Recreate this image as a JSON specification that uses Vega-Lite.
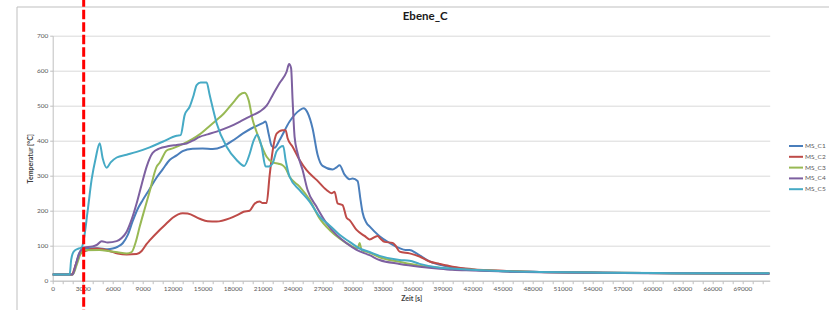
{
  "$schema": "https://vega.github.io/schema/vega-lite/v6.json",
  "width": 717,
  "height": 245,
  "autosize": {"type": "none"},
  "padding": {"left": 52.7, "top": 35.7, "right": 59.3, "bottom": 29.3},
  "background": "white",
  "config": {
    "view": {"stroke": null},
    "font": "Lato"
  },
  "title": {"text": "Ebene_C", "fontSize": 11.5, "fontWeight": "bold", "color": "#1a1a1a", "anchor": "middle", "dx": 14, "offset": -27, "font": "Lato"},
  "datasets": {
    "temps": [
      {"s":"MS_C1","t":0,"v":18},{"s":"MS_C1","t":2000,"v":18},{"s":"MS_C1","t":2300,"v":45},{"s":"MS_C1","t":2600,"v":75},{"s":"MS_C1","t":3000,"v":90},{"s":"MS_C1","t":3500,"v":93},{"s":"MS_C1","t":4500,"v":93},{"s":"MS_C1","t":5500,"v":90},{"s":"MS_C1","t":6000,"v":92},{"s":"MS_C1","t":6500,"v":97},{"s":"MS_C1","t":7000,"v":107},{"s":"MS_C1","t":7500,"v":130},{"s":"MS_C1","t":8000,"v":170},{"s":"MS_C1","t":8500,"v":205},{"s":"MS_C1","t":9000,"v":230},{"s":"MS_C1","t":9700,"v":262},{"s":"MS_C1","t":10400,"v":295},{"s":"MS_C1","t":11000,"v":318},{"s":"MS_C1","t":11700,"v":345},{"s":"MS_C1","t":12400,"v":358},{"s":"MS_C1","t":13000,"v":370},{"s":"MS_C1","t":14000,"v":377},{"s":"MS_C1","t":15000,"v":378},{"s":"MS_C1","t":16000,"v":376},{"s":"MS_C1","t":17000,"v":383},{"s":"MS_C1","t":18000,"v":400},{"s":"MS_C1","t":19000,"v":420},{"s":"MS_C1","t":20000,"v":437},{"s":"MS_C1","t":21000,"v":450},{"s":"MS_C1","t":21300,"v":455},{"s":"MS_C1","t":21600,"v":420},{"s":"MS_C1","t":21900,"v":385},{"s":"MS_C1","t":22200,"v":380},{"s":"MS_C1","t":22700,"v":402},{"s":"MS_C1","t":23700,"v":455},{"s":"MS_C1","t":24700,"v":487},{"s":"MS_C1","t":25100,"v":493},{"s":"MS_C1","t":25500,"v":480},{"s":"MS_C1","t":26000,"v":435},{"s":"MS_C1","t":26500,"v":360},{"s":"MS_C1","t":27000,"v":328},{"s":"MS_C1","t":28000,"v":318},{"s":"MS_C1","t":28400,"v":324},{"s":"MS_C1","t":28700,"v":330},{"s":"MS_C1","t":29200,"v":303},{"s":"MS_C1","t":29700,"v":290},{"s":"MS_C1","t":30000,"v":292},{"s":"MS_C1","t":30500,"v":285},{"s":"MS_C1","t":30800,"v":230},{"s":"MS_C1","t":31000,"v":195},{"s":"MS_C1","t":31400,"v":165},{"s":"MS_C1","t":31700,"v":155},{"s":"MS_C1","t":32700,"v":127},{"s":"MS_C1","t":33700,"v":108},{"s":"MS_C1","t":34700,"v":93},{"s":"MS_C1","t":35300,"v":88},{"s":"MS_C1","t":35700,"v":88},{"s":"MS_C1","t":36400,"v":78},{"s":"MS_C1","t":37700,"v":55},{"s":"MS_C1","t":39400,"v":41},{"s":"MS_C1","t":41400,"v":33},{"s":"MS_C1","t":45000,"v":27},{"s":"MS_C1","t":48700,"v":25},{"s":"MS_C1","t":55000,"v":23},{"s":"MS_C1","t":62000,"v":21.5},{"s":"MS_C1","t":71700,"v":20.5},

      {"s":"MS_C2","t":0,"v":18},{"s":"MS_C2","t":1900,"v":18},{"s":"MS_C2","t":2300,"v":45},{"s":"MS_C2","t":2700,"v":75},{"s":"MS_C2","t":3100,"v":83},{"s":"MS_C2","t":4400,"v":92},{"s":"MS_C2","t":5000,"v":90},{"s":"MS_C2","t":5700,"v":85},{"s":"MS_C2","t":6500,"v":78},{"s":"MS_C2","t":7400,"v":75},{"s":"MS_C2","t":8400,"v":76},{"s":"MS_C2","t":8900,"v":85},{"s":"MS_C2","t":9400,"v":105},{"s":"MS_C2","t":9700,"v":115},{"s":"MS_C2","t":10700,"v":145},{"s":"MS_C2","t":11400,"v":164},{"s":"MS_C2","t":12000,"v":180},{"s":"MS_C2","t":13000,"v":193},{"s":"MS_C2","t":13500,"v":192},{"s":"MS_C2","t":14700,"v":177},{"s":"MS_C2","t":15500,"v":170},{"s":"MS_C2","t":16400,"v":169},{"s":"MS_C2","t":17700,"v":178},{"s":"MS_C2","t":18500,"v":188},{"s":"MS_C2","t":19100,"v":197},{"s":"MS_C2","t":19700,"v":200},{"s":"MS_C2","t":20200,"v":220},{"s":"MS_C2","t":20700,"v":226},{"s":"MS_C2","t":21000,"v":222},{"s":"MS_C2","t":21400,"v":222},{"s":"MS_C2","t":21700,"v":300},{"s":"MS_C2","t":22000,"v":370},{"s":"MS_C2","t":22400,"v":420},{"s":"MS_C2","t":23000,"v":430},{"s":"MS_C2","t":23300,"v":430},{"s":"MS_C2","t":23500,"v":407},{"s":"MS_C2","t":24000,"v":383},{"s":"MS_C2","t":24700,"v":345},{"s":"MS_C2","t":25400,"v":316},{"s":"MS_C2","t":26400,"v":288},{"s":"MS_C2","t":27400,"v":259},{"s":"MS_C2","t":27900,"v":250},{"s":"MS_C2","t":28200,"v":254},{"s":"MS_C2","t":28500,"v":221},{"s":"MS_C2","t":29000,"v":216},{"s":"MS_C2","t":29400,"v":180},{"s":"MS_C2","t":29700,"v":173},{"s":"MS_C2","t":30400,"v":145},{"s":"MS_C2","t":31200,"v":128},{"s":"MS_C2","t":31700,"v":118},{"s":"MS_C2","t":32500,"v":128},{"s":"MS_C2","t":32800,"v":120},{"s":"MS_C2","t":33200,"v":111},{"s":"MS_C2","t":34000,"v":108},{"s":"MS_C2","t":34300,"v":100},{"s":"MS_C2","t":34700,"v":83},{"s":"MS_C2","t":35700,"v":78},{"s":"MS_C2","t":36700,"v":69},{"s":"MS_C2","t":37700,"v":55},{"s":"MS_C2","t":38700,"v":48},{"s":"MS_C2","t":40000,"v":40},{"s":"MS_C2","t":42000,"v":33},{"s":"MS_C2","t":45400,"v":28},{"s":"MS_C2","t":48700,"v":25},{"s":"MS_C2","t":55000,"v":23},{"s":"MS_C2","t":62000,"v":21.5},{"s":"MS_C2","t":71700,"v":20.5},

      {"s":"MS_C3","t":0,"v":18},{"s":"MS_C3","t":2000,"v":18},{"s":"MS_C3","t":2400,"v":45},{"s":"MS_C3","t":2800,"v":78},{"s":"MS_C3","t":3100,"v":87},{"s":"MS_C3","t":4700,"v":88},{"s":"MS_C3","t":5700,"v":84},{"s":"MS_C3","t":6500,"v":81},{"s":"MS_C3","t":7400,"v":78},{"s":"MS_C3","t":7900,"v":82},{"s":"MS_C3","t":8300,"v":110},{"s":"MS_C3","t":8700,"v":154},{"s":"MS_C3","t":9200,"v":205},{"s":"MS_C3","t":9700,"v":255},{"s":"MS_C3","t":10400,"v":326},{"s":"MS_C3","t":10700,"v":337},{"s":"MS_C3","t":11400,"v":372},{"s":"MS_C3","t":12000,"v":378},{"s":"MS_C3","t":13000,"v":390},{"s":"MS_C3","t":14000,"v":405},{"s":"MS_C3","t":14700,"v":418},{"s":"MS_C3","t":15500,"v":437},{"s":"MS_C3","t":16400,"v":459},{"s":"MS_C3","t":17100,"v":477},{"s":"MS_C3","t":17700,"v":497},{"s":"MS_C3","t":18200,"v":514},{"s":"MS_C3","t":18700,"v":531},{"s":"MS_C3","t":19200,"v":537},{"s":"MS_C3","t":19600,"v":516},{"s":"MS_C3","t":20000,"v":460},{"s":"MS_C3","t":20400,"v":425},{"s":"MS_C3","t":20700,"v":400},{"s":"MS_C3","t":21400,"v":354},{"s":"MS_C3","t":22000,"v":338},{"s":"MS_C3","t":22600,"v":334},{"s":"MS_C3","t":23000,"v":330},{"s":"MS_C3","t":23300,"v":321},{"s":"MS_C3","t":23700,"v":297},{"s":"MS_C3","t":24700,"v":269},{"s":"MS_C3","t":25700,"v":231},{"s":"MS_C3","t":26700,"v":178},{"s":"MS_C3","t":27700,"v":145},{"s":"MS_C3","t":28700,"v":121},{"s":"MS_C3","t":29700,"v":102},{"s":"MS_C3","t":30500,"v":92},{"s":"MS_C3","t":30700,"v":108},{"s":"MS_C3","t":30900,"v":88},{"s":"MS_C3","t":31700,"v":80},{"s":"MS_C3","t":32700,"v":67},{"s":"MS_C3","t":34700,"v":54},{"s":"MS_C3","t":36700,"v":43},{"s":"MS_C3","t":38700,"v":37},{"s":"MS_C3","t":40000,"v":33},{"s":"MS_C3","t":42000,"v":31},{"s":"MS_C3","t":45400,"v":27},{"s":"MS_C3","t":48700,"v":24.5},{"s":"MS_C3","t":55000,"v":23},{"s":"MS_C3","t":62000,"v":21.5},{"s":"MS_C3","t":71700,"v":20.5},

      {"s":"MS_C4","t":0,"v":18},{"s":"MS_C4","t":2000,"v":18},{"s":"MS_C4","t":2300,"v":45},{"s":"MS_C4","t":2700,"v":80},{"s":"MS_C4","t":3100,"v":95},{"s":"MS_C4","t":4000,"v":98},{"s":"MS_C4","t":4400,"v":102},{"s":"MS_C4","t":4900,"v":113},{"s":"MS_C4","t":5500,"v":109},{"s":"MS_C4","t":6400,"v":113},{"s":"MS_C4","t":6900,"v":122},{"s":"MS_C4","t":7400,"v":140},{"s":"MS_C4","t":7900,"v":175},{"s":"MS_C4","t":8400,"v":221},{"s":"MS_C4","t":8900,"v":275},{"s":"MS_C4","t":9400,"v":326},{"s":"MS_C4","t":10000,"v":365},{"s":"MS_C4","t":10700,"v":378},{"s":"MS_C4","t":11500,"v":384},{"s":"MS_C4","t":12400,"v":388},{"s":"MS_C4","t":13400,"v":392},{"s":"MS_C4","t":14000,"v":400},{"s":"MS_C4","t":14700,"v":411},{"s":"MS_C4","t":15500,"v":418},{"s":"MS_C4","t":16400,"v":426},{"s":"MS_C4","t":17700,"v":440},{"s":"MS_C4","t":18700,"v":454},{"s":"MS_C4","t":19700,"v":469},{"s":"MS_C4","t":20700,"v":483},{"s":"MS_C4","t":21400,"v":500},{"s":"MS_C4","t":22000,"v":530},{"s":"MS_C4","t":22700,"v":565},{"s":"MS_C4","t":23400,"v":597},{"s":"MS_C4","t":23650,"v":619},{"s":"MS_C4","t":23850,"v":607},{"s":"MS_C4","t":24000,"v":516},{"s":"MS_C4","t":24200,"v":411},{"s":"MS_C4","t":24500,"v":364},{"s":"MS_C4","t":25000,"v":316},{"s":"MS_C4","t":25500,"v":259},{"s":"MS_C4","t":26400,"v":211},{"s":"MS_C4","t":27400,"v":164},{"s":"MS_C4","t":28400,"v":131},{"s":"MS_C4","t":29400,"v":107},{"s":"MS_C4","t":30400,"v":88},{"s":"MS_C4","t":31700,"v":73},{"s":"MS_C4","t":32700,"v":59},{"s":"MS_C4","t":34700,"v":48},{"s":"MS_C4","t":36700,"v":40},{"s":"MS_C4","t":38700,"v":34},{"s":"MS_C4","t":40000,"v":31},{"s":"MS_C4","t":42000,"v":29},{"s":"MS_C4","t":45400,"v":26},{"s":"MS_C4","t":48700,"v":24},{"s":"MS_C4","t":55000,"v":22.5},{"s":"MS_C4","t":62000,"v":21},{"s":"MS_C4","t":71700,"v":20},

      {"s":"MS_C5","t":0,"v":18},{"s":"MS_C5","t":1700,"v":18},{"s":"MS_C5","t":1850,"v":60},{"s":"MS_C5","t":2100,"v":83},{"s":"MS_C5","t":2600,"v":92},{"s":"MS_C5","t":2900,"v":95},{"s":"MS_C5","t":3100,"v":116},{"s":"MS_C5","t":3500,"v":200},{"s":"MS_C5","t":3900,"v":290},{"s":"MS_C5","t":4300,"v":350},{"s":"MS_C5","t":4700,"v":393},{"s":"MS_C5","t":5000,"v":350},{"s":"MS_C5","t":5400,"v":323},{"s":"MS_C5","t":5800,"v":338},{"s":"MS_C5","t":6400,"v":352},{"s":"MS_C5","t":7400,"v":360},{"s":"MS_C5","t":8400,"v":368},{"s":"MS_C5","t":9700,"v":381},{"s":"MS_C5","t":11000,"v":397},{"s":"MS_C5","t":12400,"v":414},{"s":"MS_C5","t":12800,"v":416},{"s":"MS_C5","t":13200,"v":473},{"s":"MS_C5","t":13700,"v":497},{"s":"MS_C5","t":14100,"v":530},{"s":"MS_C5","t":14400,"v":559},{"s":"MS_C5","t":14800,"v":566},{"s":"MS_C5","t":15400,"v":566},{"s":"MS_C5","t":15700,"v":531},{"s":"MS_C5","t":16000,"v":495},{"s":"MS_C5","t":16400,"v":450},{"s":"MS_C5","t":17400,"v":383},{"s":"MS_C5","t":18400,"v":345},{"s":"MS_C5","t":19150,"v":328},{"s":"MS_C5","t":19700,"v":362},{"s":"MS_C5","t":20100,"v":400},{"s":"MS_C5","t":20450,"v":417},{"s":"MS_C5","t":20900,"v":383},{"s":"MS_C5","t":21300,"v":326},{"s":"MS_C5","t":21600,"v":326},{"s":"MS_C5","t":22000,"v":335},{"s":"MS_C5","t":22400,"v":370},{"s":"MS_C5","t":23060,"v":385},{"s":"MS_C5","t":23300,"v":345},{"s":"MS_C5","t":23700,"v":297},{"s":"MS_C5","t":24700,"v":259},{"s":"MS_C5","t":25700,"v":226},{"s":"MS_C5","t":26700,"v":183},{"s":"MS_C5","t":27700,"v":158},{"s":"MS_C5","t":28700,"v":131},{"s":"MS_C5","t":29700,"v":111},{"s":"MS_C5","t":30700,"v":92},{"s":"MS_C5","t":31700,"v":82},{"s":"MS_C5","t":32700,"v":71},{"s":"MS_C5","t":34700,"v":59},{"s":"MS_C5","t":35700,"v":57},{"s":"MS_C5","t":36700,"v":48},{"s":"MS_C5","t":38700,"v":37},{"s":"MS_C5","t":41000,"v":33},{"s":"MS_C5","t":45400,"v":27},{"s":"MS_C5","t":48700,"v":25},{"s":"MS_C5","t":55000,"v":23},{"s":"MS_C5","t":62000,"v":21.5},{"s":"MS_C5","t":71700,"v":21}
    ]
  },
  "layer": [
    {
      "data": {"name": "temps"},
      "mark": {"type": "line", "strokeWidth": 2, "interpolate": "monotone"},
      "encoding": {
        "x": {
          "field": "t", "type": "quantitative",
          "scale": {"domain": [0, 71730], "nice": false, "zero": false},
          "axis": {
            "title": "Zeit [s]", "titleFontSize": 7, "titleFontWeight": "bold", "titleColor": "#404040", "titlePadding": 2,
            "tickCount": 200,
            "values": [0,1000,2000,3000,4000,5000,6000,7000,8000,9000,10000,11000,12000,13000,14000,15000,16000,17000,18000,19000,20000,21000,22000,23000,24000,25000,26000,27000,28000,29000,30000,31000,32000,33000,34000,35000,36000,37000,38000,39000,40000,41000,42000,43000,44000,45000,46000,47000,48000,49000,50000,51000,52000,53000,54000,55000,56000,57000,58000,59000,60000,61000,62000,63000,64000,65000,66000,67000,68000,69000,70000,71000],
            "labelExpr": "datum.value % 3000 === 0 ? format(datum.value, 'd') : ''",
            "labelFontSize": 6.5, "labelColor": "#595959", "labelPadding": 2, "labelOverlap": false, "labelFlush": false,
            "tickSize": 3, "tickColor": "#bfbfbf", "domainColor": "#bfbfbf", "grid": false
          }
        },
        "y": {
          "field": "v", "type": "quantitative",
          "scale": {"domain": [0, 700], "nice": false},
          "axis": {
            "title": "Temperatur [°C]", "titleFontSize": 7, "titleFontWeight": "bold", "titleColor": "#404040", "titlePadding": 3,
            "tickCount": 50,
            "values": [0,100,200,300,400,500,600,700],
            "labelFontSize": 6.5, "labelColor": "#595959", "labelPadding": 2, "labelOverlap": false,
            "tickSize": 3, "tickColor": "#bfbfbf", "domainColor": "#bfbfbf",
            "grid": true, "gridColor": "#d9d9d9", "gridWidth": 1
          }
        },
        "color": {
          "field": "s", "type": "nominal",
          "scale": {"domain": ["MS_C1","MS_C2","MS_C3","MS_C4","MS_C5"], "range": ["#4a7ebb","#be4b48","#98b954","#7d60a0","#46aac5"]},
          "legend": {
            "title": null, "orient": "none", "legendX": 737.3, "legendY": 104.3,
            "symbolType": "M-1.4,0H1.4", "symbolSize": 100, "symbolStrokeWidth": 2,
            "labelFontSize": 6.5, "labelColor": "#595959", "labelOffset": 3, "rowPadding": 0.8
          }
        }
      }
    },
    {
      "data": {"values": [{}]},
      "mark": {"type": "rect", "fill": "white", "fillOpacity": 0, "stroke": "#bfbfbf", "strokeWidth": 1, "clip": false},
      "encoding": {
        "x": {"datum": -3570, "type": "quantitative"},
        "x2": {"datum": 80000},
        "y": {"datum": 782, "type": "quantitative"},
        "y2": {"datum": -120}
      }
    },
    {
      "data": {"values": [{}]},
      "mark": {"type": "rule", "color": "#ff0000", "strokeWidth": 3, "strokeDash": [9.5, 3], "clip": false},
      "encoding": {
        "x": {"datum": 3100, "type": "quantitative"},
        "y": {"datum": 810, "type": "quantitative"},
        "y2": {"datum": -90}
      }
    }
  ]
}
